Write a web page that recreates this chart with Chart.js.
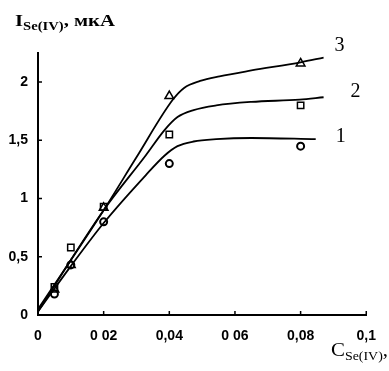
<!DOCTYPE html>
<html>
<head>
<meta charset="utf-8">
<script src="https://cdn.jsdelivr.net/npm/chart.js@4/dist/chart.umd.min.js"></script>
<style>
  html, body { margin: 0; padding: 0; background: #fff; }
  #wrap { width: 389px; height: 371px; position: relative; }
</style>
</head>
<body>
<div id="wrap"><canvas id="seChart"></canvas></div>
<script>
// Measured concentrations (x) and currents for the three series
const concentrations = [0.005, 0.01, 0.02, 0.04, 0.08];
const current1 = [0.18, 0.43, 0.80, 1.30, 1.45];   // circles
const current2 = [0.24, 0.58, 0.93, 1.55, 1.80];   // squares
const current3 = [0.22, 0.43, 0.92, 1.88, 2.16];   // triangles

// Fitted curves, read as [x, y] pairs
const fit1 = [[0, 0.03], [0.01, 0.42], [0.02, 0.79], [0.0328, 1.20], [0.0386, 1.37], [0.0425, 1.45], [0.0474, 1.49], [0.0543, 1.51], [0.065, 1.52], [0.0846, 1.51]];
const fit2 = [[0, 0.03], [0.02, 0.90], [0.0328, 1.37], [0.0386, 1.59], [0.0425, 1.70], [0.0474, 1.76], [0.0543, 1.80], [0.065, 1.83], [0.0797, 1.85], [0.087, 1.87]];
const fit3 = [[0, 0.05], [0.02, 0.90], [0.0299, 1.35], [0.0411, 1.85], [0.0445, 1.95], [0.0494, 2.01], [0.0553, 2.05], [0.065, 2.10], [0.08, 2.17], [0.087, 2.21]];

const xTicks = [0, 0.02, 0.04, 0.06, 0.08, 0.1];
const xTickLabels = ['0', '0 02', '0,04', '0 06', '0,08', '0,1'];
const yTicks = [0, 0.5, 1, 1.5, 2];
const yTickLabels = ['0', '0,5', '1', '1,5', '2'];
const curveNames = ['1', '2', '3'];

const toPoints = (xs, ys) => xs.map((x, i) => ({ x: x, y: ys[i] }));
const toXY = pairs => pairs.map(p => ({ x: p[0], y: p[1] }));

function curve(pairs) {
    return {
        data: toXY(pairs),
        showLine: true,
        borderColor: '#000',
        borderWidth: 1.8,
        pointRadius: 0,
        cubicInterpolationMode: 'monotone',
        order: 2
    };
}

function markers(ys, style, radius, width) {
    return {
        data: toPoints(concentrations, ys),
        showLine: false,
        pointStyle: style,
        pointRadius: radius,
        pointBorderWidth: width,
        pointBorderColor: '#000',
        pointBackgroundColor: 'rgba(255,255,255,0)',
        order: 1
    };
}

// Text with a subscript, squeezed or stretched to a given width
function drawSubLabel(c, parts, x, baseline, width) {
    let total = 0;
    parts.forEach(p => { c.font = p.font; total += c.measureText(p.text).width; });
    c.save();
    c.translate(x, baseline);
    c.scale(width / total, 1);
    let cx = 0;
    parts.forEach(p => {
        c.font = p.font;
        c.fillText(p.text, cx, p.dy || 0);
        cx += c.measureText(p.text).width;
    });
    c.restore();
}

// Inward tick marks plus the axis titles and curve numbers
const decorations = {
    id: 'decorations',
    afterDraw(chart) {
        const c = chart.ctx;
        const xs = chart.scales.x, ys = chart.scales.y;
        const area = chart.chartArea;
        c.save();
        c.strokeStyle = '#000';
        c.lineWidth = 1.5;
        c.beginPath();
        xTicks.forEach(v => {
            const px = xs.getPixelForValue(v);
            c.moveTo(px, area.bottom);
            c.lineTo(px, area.bottom - 4);
        });
        yTicks.forEach(v => {
            const py = ys.getPixelForValue(v);
            c.moveTo(area.left, py);
            c.lineTo(area.left + 4, py);
        });
        c.stroke();

        c.fillStyle = '#000';
        c.textBaseline = 'alphabetic';
        c.textAlign = 'left';

        drawSubLabel(c, [
            { text: 'I', font: 'bold 17px "Liberation Serif"' },
            { text: 'Se(IV)', font: 'bold 12px "Liberation Serif"', dy: 4 },
            { text: ', мкА', font: 'bold 17px "Liberation Serif"' }
        ], 15, 25.5, 100);

        drawSubLabel(c, [
            { text: 'C', font: '18px "Liberation Serif"' },
            { text: 'Se(IV)', font: '12px "Liberation Serif"', dy: 4 },
            { text: ',', font: '18px "Liberation Serif"' }
        ], 331, 356, 57);

        // curve numbers next to the right ends
        const ends = [fit1[fit1.length - 1], fit2[fit2.length - 1], fit3[fit3.length - 1]];
        const shifts = [[20, 3], [27, 0], [11, -7]];
        c.font = '20px "Liberation Serif"';
        ends.forEach((p, i) => {
            c.fillText(curveNames[i], xs.getPixelForValue(p[0]) + shifts[i][0], ys.getPixelForValue(p[1]) + shifts[i][1]);
        });
        c.restore();
    }
};

const tickFont = { family: "'Liberation Sans'", size: 14, weight: 'bold' };

new Chart(document.getElementById('seChart'), {
    type: 'scatter',
    data: {
        datasets: [
            curve(fit1), curve(fit2), curve(fit3),
            markers(current1, 'circle', 3.5, 2),
            markers(current2, 'rect', 4.5, 1.5),
            markers(current3, 'triangle', 5, 1.5)
        ]
    },
    options: {
        responsive: true,
        maintainAspectRatio: false,
        animation: false,
        layout: { padding: { top: 53, right: 10, left: 0, bottom: 0 } },
        plugins: { legend: { display: false }, tooltip: { enabled: false } },
        scales: {
            x: {
                type: 'linear',
                min: 0,
                max: 0.1,
                afterFit: s => { s.height = 56; },
                afterBuildTicks: s => { s.ticks = xTicks.map(v => ({ value: v })); },
                grid: { drawOnChartArea: false, drawTicks: false },
                border: { color: '#000', width: 2 },
                ticks: {
                    padding: 13,
                    color: '#000',
                    font: tickFont,
                    callback: (v, i) => xTickLabels[i]
                }
            },
            y: {
                type: 'linear',
                min: 0,
                max: 2.25,
                afterFit: s => { s.width = 38; },
                afterBuildTicks: s => { s.ticks = yTicks.map(v => ({ value: v })); },
                grid: { drawOnChartArea: false, drawTicks: false },
                border: { color: '#000', width: 2 },
                ticks: {
                    padding: 10,
                    color: '#000',
                    font: tickFont,
                    callback: (v, i) => yTickLabels[i]
                }
            }
        }
    },
    plugins: [decorations]
});
</script>
</body>
</html>
